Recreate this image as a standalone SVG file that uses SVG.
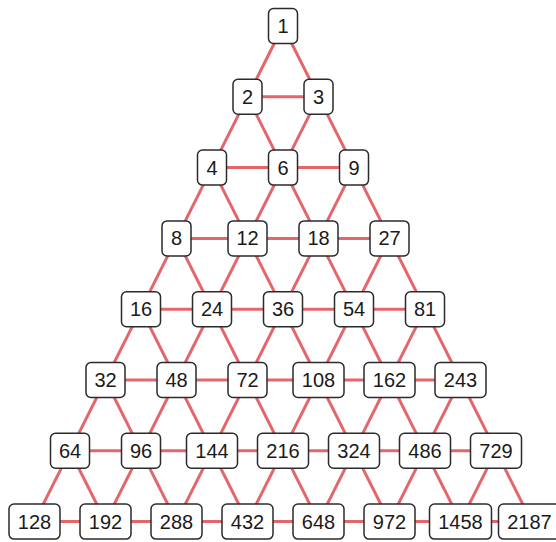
<svg xmlns="http://www.w3.org/2000/svg" width="556" height="542" viewBox="0 0 556 542">
<style>
.e{stroke:#e4666b;stroke-width:3;fill:none;stroke-linecap:butt}
.b{fill:#fff;stroke:#2b2b2b;stroke-width:1.5}
.t{font-family:"Liberation Sans",Arial,sans-serif;font-size:20px;fill:#1a1a1a;text-anchor:middle}
</style>
<rect width="556" height="542" fill="#fff"/>
<g id="connectors">
<line class="e" x1="247.5" y1="96.8" x2="318.5" y2="96.8"/>
<line class="e" x1="212" y1="167.6" x2="283" y2="167.6"/><line class="e" x1="283" y1="167.6" x2="354" y2="167.6"/>
<line class="e" x1="176.5" y1="238.4" x2="247.5" y2="238.4"/><line class="e" x1="247.5" y1="238.4" x2="318.5" y2="238.4"/><line class="e" x1="318.5" y1="238.4" x2="389.5" y2="238.4"/>
<line class="e" x1="141" y1="309.2" x2="212" y2="309.2"/><line class="e" x1="212" y1="309.2" x2="283" y2="309.2"/><line class="e" x1="283" y1="309.2" x2="354" y2="309.2"/><line class="e" x1="354" y1="309.2" x2="425" y2="309.2"/>
<line class="e" x1="105.5" y1="380" x2="176.5" y2="380"/><line class="e" x1="176.5" y1="380" x2="247.5" y2="380"/><line class="e" x1="247.5" y1="380" x2="318.5" y2="380"/><line class="e" x1="318.5" y1="380" x2="389.5" y2="380"/><line class="e" x1="389.5" y1="380" x2="460.5" y2="380"/>
<line class="e" x1="70" y1="450.8" x2="141" y2="450.8"/><line class="e" x1="141" y1="450.8" x2="212" y2="450.8"/><line class="e" x1="212" y1="450.8" x2="283" y2="450.8"/><line class="e" x1="283" y1="450.8" x2="354" y2="450.8"/><line class="e" x1="354" y1="450.8" x2="425" y2="450.8"/><line class="e" x1="425" y1="450.8" x2="496" y2="450.8"/>
<line class="e" x1="34.5" y1="521.6" x2="105.5" y2="521.6"/><line class="e" x1="105.5" y1="521.6" x2="176.5" y2="521.6"/><line class="e" x1="176.5" y1="521.6" x2="247.5" y2="521.6"/><line class="e" x1="247.5" y1="521.6" x2="318.5" y2="521.6"/><line class="e" x1="318.5" y1="521.6" x2="389.5" y2="521.6"/><line class="e" x1="389.5" y1="521.6" x2="460.5" y2="521.6"/><line class="e" x1="460.5" y1="521.6" x2="531.5" y2="521.6"/>
<line class="e" x1="283" y1="26" x2="247.5" y2="96.8"/><line class="e" x1="283" y1="26" x2="318.5" y2="96.8"/>
<line class="e" x1="247.5" y1="96.8" x2="212" y2="167.6"/><line class="e" x1="247.5" y1="96.8" x2="283" y2="167.6"/><line class="e" x1="318.5" y1="96.8" x2="283" y2="167.6"/><line class="e" x1="318.5" y1="96.8" x2="354" y2="167.6"/>
<line class="e" x1="212" y1="167.6" x2="176.5" y2="238.4"/><line class="e" x1="212" y1="167.6" x2="247.5" y2="238.4"/><line class="e" x1="283" y1="167.6" x2="247.5" y2="238.4"/><line class="e" x1="283" y1="167.6" x2="318.5" y2="238.4"/><line class="e" x1="354" y1="167.6" x2="318.5" y2="238.4"/><line class="e" x1="354" y1="167.6" x2="389.5" y2="238.4"/>
<line class="e" x1="176.5" y1="238.4" x2="141" y2="309.2"/><line class="e" x1="176.5" y1="238.4" x2="212" y2="309.2"/><line class="e" x1="247.5" y1="238.4" x2="212" y2="309.2"/><line class="e" x1="247.5" y1="238.4" x2="283" y2="309.2"/><line class="e" x1="318.5" y1="238.4" x2="283" y2="309.2"/><line class="e" x1="318.5" y1="238.4" x2="354" y2="309.2"/><line class="e" x1="389.5" y1="238.4" x2="354" y2="309.2"/><line class="e" x1="389.5" y1="238.4" x2="425" y2="309.2"/>
<line class="e" x1="141" y1="309.2" x2="105.5" y2="380"/><line class="e" x1="141" y1="309.2" x2="176.5" y2="380"/><line class="e" x1="212" y1="309.2" x2="176.5" y2="380"/><line class="e" x1="212" y1="309.2" x2="247.5" y2="380"/><line class="e" x1="283" y1="309.2" x2="247.5" y2="380"/><line class="e" x1="283" y1="309.2" x2="318.5" y2="380"/><line class="e" x1="354" y1="309.2" x2="318.5" y2="380"/><line class="e" x1="354" y1="309.2" x2="389.5" y2="380"/><line class="e" x1="425" y1="309.2" x2="389.5" y2="380"/><line class="e" x1="425" y1="309.2" x2="460.5" y2="380"/>
<line class="e" x1="105.5" y1="380" x2="70" y2="450.8"/><line class="e" x1="105.5" y1="380" x2="141" y2="450.8"/><line class="e" x1="176.5" y1="380" x2="141" y2="450.8"/><line class="e" x1="176.5" y1="380" x2="212" y2="450.8"/><line class="e" x1="247.5" y1="380" x2="212" y2="450.8"/><line class="e" x1="247.5" y1="380" x2="283" y2="450.8"/><line class="e" x1="318.5" y1="380" x2="283" y2="450.8"/><line class="e" x1="318.5" y1="380" x2="354" y2="450.8"/><line class="e" x1="389.5" y1="380" x2="354" y2="450.8"/><line class="e" x1="389.5" y1="380" x2="425" y2="450.8"/><line class="e" x1="460.5" y1="380" x2="425" y2="450.8"/><line class="e" x1="460.5" y1="380" x2="496" y2="450.8"/>
<line class="e" x1="70" y1="450.8" x2="34.5" y2="521.6"/><line class="e" x1="70" y1="450.8" x2="105.5" y2="521.6"/><line class="e" x1="141" y1="450.8" x2="105.5" y2="521.6"/><line class="e" x1="141" y1="450.8" x2="176.5" y2="521.6"/><line class="e" x1="212" y1="450.8" x2="176.5" y2="521.6"/><line class="e" x1="212" y1="450.8" x2="247.5" y2="521.6"/><line class="e" x1="283" y1="450.8" x2="247.5" y2="521.6"/><line class="e" x1="283" y1="450.8" x2="318.5" y2="521.6"/><line class="e" x1="354" y1="450.8" x2="318.5" y2="521.6"/><line class="e" x1="354" y1="450.8" x2="389.5" y2="521.6"/><line class="e" x1="425" y1="450.8" x2="389.5" y2="521.6"/><line class="e" x1="425" y1="450.8" x2="460.5" y2="521.6"/><line class="e" x1="496" y1="450.8" x2="460.5" y2="521.6"/><line class="e" x1="496" y1="450.8" x2="531.5" y2="521.6"/>
</g>
<g id="n1"><rect class="b" x="268.5" y="8.5" width="29" height="35" rx="5"/><text class="t" x="283" y="33">1</text></g>
<g id="n2"><rect class="b" x="233" y="79.3" width="29" height="35" rx="5"/><text class="t" x="247.5" y="103.8">2</text></g>
<g id="n3"><rect class="b" x="304" y="79.3" width="29" height="35" rx="5"/><text class="t" x="318.5" y="103.8">3</text></g>
<g id="n4"><rect class="b" x="197.5" y="150.1" width="29" height="35" rx="5"/><text class="t" x="212" y="174.6">4</text></g>
<g id="n6"><rect class="b" x="268.5" y="150.1" width="29" height="35" rx="5"/><text class="t" x="283" y="174.6">6</text></g>
<g id="n9"><rect class="b" x="339.5" y="150.1" width="29" height="35" rx="5"/><text class="t" x="354" y="174.6">9</text></g>
<g id="n8"><rect class="b" x="162" y="220.9" width="29" height="35" rx="5"/><text class="t" x="176.5" y="245.4">8</text></g>
<g id="n12"><rect class="b" x="228" y="220.9" width="39" height="35" rx="5"/><text class="t" x="247.5" y="245.4">12</text></g>
<g id="n18"><rect class="b" x="299" y="220.9" width="39" height="35" rx="5"/><text class="t" x="318.5" y="245.4">18</text></g>
<g id="n27"><rect class="b" x="370" y="220.9" width="39" height="35" rx="5"/><text class="t" x="389.5" y="245.4">27</text></g>
<g id="n16"><rect class="b" x="121.5" y="291.7" width="39" height="35" rx="5"/><text class="t" x="141" y="316.2">16</text></g>
<g id="n24"><rect class="b" x="192.5" y="291.7" width="39" height="35" rx="5"/><text class="t" x="212" y="316.2">24</text></g>
<g id="n36"><rect class="b" x="263.5" y="291.7" width="39" height="35" rx="5"/><text class="t" x="283" y="316.2">36</text></g>
<g id="n54"><rect class="b" x="334.5" y="291.7" width="39" height="35" rx="5"/><text class="t" x="354" y="316.2">54</text></g>
<g id="n81"><rect class="b" x="405.5" y="291.7" width="39" height="35" rx="5"/><text class="t" x="425" y="316.2">81</text></g>
<g id="n32"><rect class="b" x="86" y="362.5" width="39" height="35" rx="5"/><text class="t" x="105.5" y="387">32</text></g>
<g id="n48"><rect class="b" x="157" y="362.5" width="39" height="35" rx="5"/><text class="t" x="176.5" y="387">48</text></g>
<g id="n72"><rect class="b" x="228" y="362.5" width="39" height="35" rx="5"/><text class="t" x="247.5" y="387">72</text></g>
<g id="n108"><rect class="b" x="293" y="362.5" width="51" height="35" rx="5"/><text class="t" x="318.5" y="387">108</text></g>
<g id="n162"><rect class="b" x="364" y="362.5" width="51" height="35" rx="5"/><text class="t" x="389.5" y="387">162</text></g>
<g id="n243"><rect class="b" x="435" y="362.5" width="51" height="35" rx="5"/><text class="t" x="460.5" y="387">243</text></g>
<g id="n64"><rect class="b" x="50.5" y="433.3" width="39" height="35" rx="5"/><text class="t" x="70" y="457.8">64</text></g>
<g id="n96"><rect class="b" x="121.5" y="433.3" width="39" height="35" rx="5"/><text class="t" x="141" y="457.8">96</text></g>
<g id="n144"><rect class="b" x="186.5" y="433.3" width="51" height="35" rx="5"/><text class="t" x="212" y="457.8">144</text></g>
<g id="n216"><rect class="b" x="257.5" y="433.3" width="51" height="35" rx="5"/><text class="t" x="283" y="457.8">216</text></g>
<g id="n324"><rect class="b" x="328.5" y="433.3" width="51" height="35" rx="5"/><text class="t" x="354" y="457.8">324</text></g>
<g id="n486"><rect class="b" x="399.5" y="433.3" width="51" height="35" rx="5"/><text class="t" x="425" y="457.8">486</text></g>
<g id="n729"><rect class="b" x="470.5" y="433.3" width="51" height="35" rx="5"/><text class="t" x="496" y="457.8">729</text></g>
<g id="n128"><rect class="b" x="9" y="504.1" width="51" height="35" rx="5"/><text class="t" x="34.5" y="528.6">128</text></g>
<g id="n192"><rect class="b" x="80" y="504.1" width="51" height="35" rx="5"/><text class="t" x="105.5" y="528.6">192</text></g>
<g id="n288"><rect class="b" x="151" y="504.1" width="51" height="35" rx="5"/><text class="t" x="176.5" y="528.6">288</text></g>
<g id="n432"><rect class="b" x="222" y="504.1" width="51" height="35" rx="5"/><text class="t" x="247.5" y="528.6">432</text></g>
<g id="n648"><rect class="b" x="293" y="504.1" width="51" height="35" rx="5"/><text class="t" x="318.5" y="528.6">648</text></g>
<g id="n972"><rect class="b" x="364" y="504.1" width="51" height="35" rx="5"/><text class="t" x="389.5" y="528.6">972</text></g>
<g id="n1458"><rect class="b" x="429.5" y="504.1" width="62" height="35" rx="5"/><text class="t" x="460.5" y="528.6">1458</text></g>
<g id="n2187"><rect class="b" x="498.5" y="504.1" width="62" height="35" rx="5"/><text class="t" x="529.5" y="528.6">2187</text></g>
</svg>
